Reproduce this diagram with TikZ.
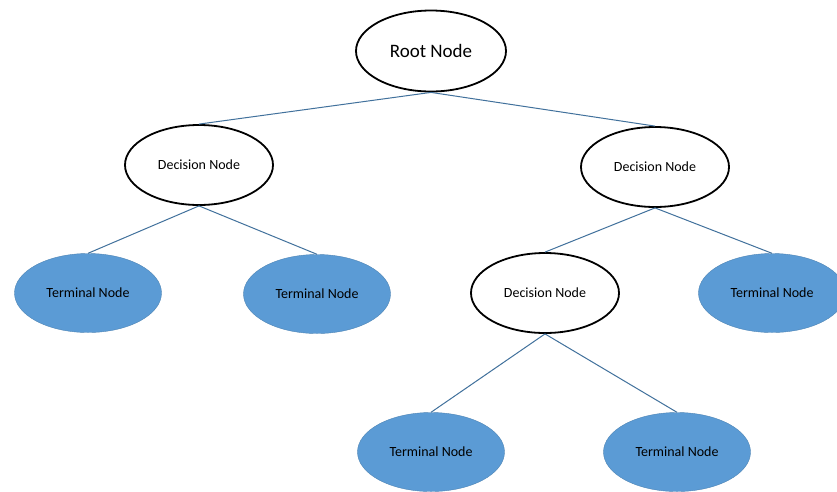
\documentclass[tikz,border=0pt]{standalone}
\usepackage{fontspec}
\setmainfont{Carlito}
\usetikzlibrary{shapes.geometric}
\definecolor{edgeblue}{HTML}{41719C}
\definecolor{leafblue}{HTML}{5B9BD5}
\begin{document}
\begin{tikzpicture}[x=1pt,y=-1pt]
    \useasboundingbox[fill=white] (0,0) rectangle (837,491);
    \begin{scope}[every node/.style={ellipse,draw=black,line width=1.8pt,minimum width=148pt,minimum height=80pt,inner sep=0pt,font=\fontsize{14}{16}\selectfont}]
      \node[font=\fontsize{19}{22}\selectfont,minimum width=150pt,minimum height=81pt] (root) at (431,51) {Root Node};
      \node (dl) at (199,165) {Decision Node};
      \node (dr) at (655,167) {Decision Node};
      \node (dm) at (545,293) {Decision Node};
    \end{scope}
    \begin{scope}[every node/.style={ellipse,fill=leafblue,draw=leafblue!85!black,line width=0.4pt,minimum width=147pt,minimum height=79pt,inner sep=0pt,font=\fontsize{14}{16}\selectfont}]
      \node (t1) at (88,293) {Terminal Node};
      \node (t2) at (317,294) {Terminal Node};
      \node (t3) at (772,293) {Terminal Node};
      \node (t4) at (431,452) {Terminal Node};
      \node (t5) at (677,452) {Terminal Node};
    \end{scope}
    \begin{scope}[every edge/.style={draw=edgeblue,line width=1pt}]
      \path (root.south) edge (dl.north);
      \path (root.south) edge (dr.north);
      \path (dl.south) edge (t1.north);
      \path (dl.south) edge (t2.north);
      \path (dr.south) edge (dm.north);
      \path (dr.south) edge (t3.north);
      \path (dm.south) edge (t4.north);
      \path (dm.south) edge (t5.north);
    \end{scope}
  \end{tikzpicture}
\end{document}
